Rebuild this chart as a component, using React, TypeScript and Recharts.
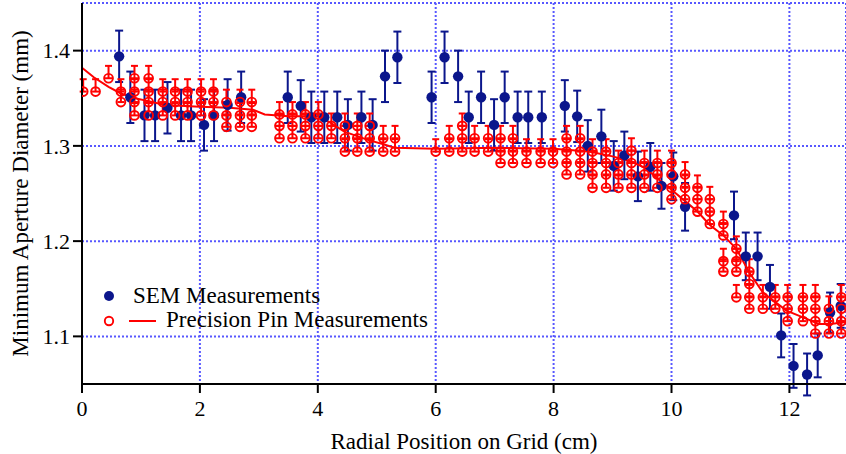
import React from 'react';
import { ComposedChart, Scatter, Line, XAxis, YAxis, CartesianGrid, ErrorBar, Legend, Label } from 'recharts';

const xTicks = [0, 2, 4, 6, 8, 10, 12];
const yTicks = [1.1, 1.2, 1.3, 1.4];

// SEM measurements (filled navy dots, symmetric error bars)
const semX = [0.63, 0.82, 1.06, 1.24, 1.45, 1.68, 1.85, 2.07, 2.24, 2.47, 2.70,
  3.49, 3.71, 3.89, 4.11, 4.33, 4.51, 4.74, 4.93, 5.14, 5.35,
  5.93, 6.15, 6.38, 6.56, 6.77, 6.99, 7.17, 7.39, 7.57, 7.80,
  8.19, 8.40, 8.58, 8.81, 9.02, 9.20, 9.43, 9.64, 9.83, 10.03, 10.23,
  11.06, 11.26, 11.46, 11.67, 11.86, 12.07, 12.30, 12.48, 12.69, 12.87];
const semY = [1.394, 1.351, 1.332, 1.332, 1.340, 1.332, 1.332, 1.322, 1.332, 1.343, 1.351,
  1.351, 1.342, 1.330, 1.330, 1.330, 1.322, 1.330, 1.322, 1.373, 1.393,
  1.351, 1.393, 1.373, 1.330, 1.351, 1.322, 1.351, 1.330, 1.330, 1.330,
  1.342, 1.331, 1.300, 1.310, 1.279, 1.290, 1.268, 1.278, 1.258, 1.268, 1.236,
  1.227, 1.184, 1.184, 1.152, 1.101, 1.069, 1.060, 1.080, 1.125, 1.132];
const semErr = [0.027, 0.027, 0.027, 0.027, 0.027, 0.027, 0.027, 0.027, 0.027, 0.027, 0.027,
  0.027, 0.027, 0.027, 0.027, 0.027, 0.027, 0.027, 0.027, 0.027, 0.027,
  0.027, 0.027, 0.027, 0.027, 0.027, 0.027, 0.027, 0.027, 0.027, 0.027,
  0.027, 0.027, 0.027, 0.028, 0.026, 0.025, 0.026, 0.025, 0.024, 0.025, 0.025,
  0.025, 0.025, 0.025, 0.023, 0.023, 0.023, 0.022, 0.023, 0.021, 0.023];

// Precision pin measurements: columns of open circles
const pinX = [0.02, 0.23, 0.45, 0.66, 0.89, 1.13, 1.37, 1.58, 1.79, 2.02, 2.23, 2.45, 2.68, 2.88,
  3.35, 3.57, 3.79, 4.01, 4.23, 4.46, 4.67, 4.88, 5.11, 5.31,
  6.0, 6.23, 6.45, 6.66, 6.89, 7.10, 7.31, 7.54, 7.78, 7.99, 8.22, 8.45, 8.66, 8.89,
  9.10, 9.32, 9.54, 9.76, 10.0, 10.23, 10.44, 10.65, 10.88, 11.10, 11.32,
  11.55, 11.76, 11.97, 12.23, 12.44, 12.67, 12.88];
const pinY = [
  [1.357], [1.357], [1.371], [1.357, 1.346],
  [1.371, 1.357, 1.346, 1.332], [1.371, 1.357, 1.346, 1.332],
  [1.357, 1.346, 1.332], [1.357, 1.346, 1.332], [1.357, 1.346, 1.332], [1.357, 1.346, 1.332], [1.357, 1.346, 1.332],
  [1.346, 1.332, 1.320], [1.346, 1.332, 1.320], [1.346, 1.332, 1.320],
  [1.333, 1.321, 1.308], [1.333, 1.321, 1.308], [1.333, 1.321, 1.308], [1.333, 1.321, 1.308],
  [1.321, 1.308], [1.321, 1.308, 1.294], [1.321, 1.308, 1.294], [1.321, 1.308, 1.294],
  [1.308, 1.294], [1.308, 1.294],
  [1.294], [1.308, 1.294], [1.321, 1.308, 1.294], [1.308, 1.294], [1.308, 1.294],
  [1.308, 1.294, 1.282], [1.308, 1.294, 1.282],
  [1.294, 1.282], [1.294, 1.282], [1.294, 1.282],
  [1.308, 1.294, 1.282, 1.270], [1.308, 1.294, 1.282, 1.270],
  [1.294, 1.282, 1.270, 1.256], [1.294, 1.282, 1.270, 1.256],
  [1.282, 1.270, 1.256], [1.295, 1.282, 1.270, 1.256], [1.282, 1.270, 1.256], [1.282, 1.270, 1.256],
  [1.282, 1.270, 1.256, 1.244], [1.270, 1.256, 1.244], [1.256, 1.244, 1.231], [1.244, 1.231, 1.218],
  [1.218, 1.206, 1.179, 1.168], [1.192, 1.179, 1.168, 1.141], [1.168, 1.155, 1.141, 1.129],
  [1.141, 1.129], [1.141, 1.129], [1.141, 1.129, 1.116], [1.141, 1.129, 1.116],
  [1.141, 1.129, 1.116, 1.103], [1.129, 1.116, 1.103], [1.141, 1.129, 1.116, 1.103],
];
const pinErrUp = 0.013;

// Precision pin trend line
const lineX = [0, 0.2, 0.45, 0.66, 0.9, 1.13, 1.4, 2.0, 2.5, 2.9, 3.1, 3.5, 4.0, 4.2, 4.45, 4.86, 5.1, 5.3,
  6.0, 7.0, 8.0, 8.6, 9.0, 9.3, 9.55, 9.8, 10.0, 10.23, 10.44, 10.65, 10.88, 11.1, 11.32, 11.55, 11.95,
  12.23, 12.5, 12.7, 12.96];
const lineY = [1.382, 1.372, 1.362, 1.355, 1.350, 1.347, 1.343, 1.341, 1.340, 1.338, 1.333, 1.331, 1.331,
  1.325, 1.315, 1.306, 1.302, 1.298, 1.297, 1.298, 1.297, 1.294, 1.289, 1.284, 1.277, 1.264, 1.254,
  1.242, 1.231, 1.217, 1.206, 1.192, 1.167, 1.146, 1.127, 1.120, 1.113, 1.113, 1.115];

const semData = semX.map((x, i) => ({ x, y: semY[i], err: semErr[i] }));
const pinData = pinX.flatMap((x, i) => pinY[i].map((y) => ({ x, y, eu: [0, pinErrUp] })));
const lineData = lineX.map((x, i) => ({ x, y: lineY[i] }));

const FONT = '"Liberation Serif", "Times New Roman", serif';
const SEM_COLOR = '#0b168c';
const PIN_COLOR = '#ff0000';
const GRID_COLOR = '#5858ff';

const SemDot = (props: any) => <circle cx={props.cx} cy={props.cy} r={5.2} fill={SEM_COLOR} />;
const PinDot = (props: any) => (
  <circle cx={props.cx} cy={props.cy} r={4.4} fill="none" stroke={PIN_COLOR} strokeWidth={1.9} />
);

const LegendContent = () => (
  <svg width={360} height={52} style={{ display: 'block', overflow: 'visible' }}>
    <circle cx={14} cy={13} r={5} fill={SEM_COLOR} />
    <text x={38} y={20} fontFamily={FONT} fontSize={23} fill="#000">SEM Measurements</text>
    <circle cx={14} cy={38} r={4.2} fill="none" stroke={PIN_COLOR} strokeWidth={1.9} />
    <line x1={34} x2={61} y1={38} y2={38} stroke={PIN_COLOR} strokeWidth={2} />
    <text x={71} y={44} fontFamily={FONT} fontSize={23} fill="#000">Precision Pin Measurements</text>
  </svg>
);

export default function App() {
  const tickStyle = { fill: '#000', fontSize: 22, fontFamily: FONT };
  return (
    <div style={{ position: 'absolute', left: 0, top: 0, background: '#fff' }}>
      <ComposedChart width={846} height={454} margin={{ top: 3, right: 0, bottom: 0, left: 0 }}>
        <CartesianGrid stroke={GRID_COLOR} strokeWidth={2} strokeDasharray="2 2" />
        <XAxis
          type="number"
          dataKey="x"
          domain={[0, 12.96]}
          allowDataOverflow
          ticks={xTicks}
          height={70}
          tick={tickStyle}
          tickSize={9}
          tickMargin={7}
          axisLine={{ stroke: '#000', strokeWidth: 2 }}
          tickLine={{ stroke: '#000', strokeWidth: 2 }}
        >
          <Label value="Radial Position on Grid (cm)" position="insideBottom" offset={5}
            style={{ fill: '#000', fontSize: 23, fontFamily: FONT }} />
        </XAxis>
        <XAxis
          xAxisId="top"
          orientation="top"
          type="number"
          domain={[0, 12.96]}
          allowDataOverflow
          height={0}
          tick={false}
          tickLine={false}
          axisLine={{ stroke: '#000', strokeWidth: 2 }}
        />
        <YAxis
          type="number"
          domain={[1.05, 1.45]}
          allowDataOverflow
          ticks={yTicks}
          width={82}
          tick={tickStyle}
          tickFormatter={(v: number) => v.toFixed(1)}
          tickSize={9}
          tickMargin={3}
          axisLine={{ stroke: '#000', strokeWidth: 2 }}
          tickLine={{ stroke: '#000', strokeWidth: 2 }}
        >
          <Label value="Minimum Aperture Diameter (mm)" angle={-90} position="insideLeft" offset={20}
            style={{ fill: '#000', fontSize: 23, fontFamily: FONT, textAnchor: 'middle' }} />
        </YAxis>
        <Scatter data={semData} dataKey="y" shape={SemDot} isAnimationActive={false}>
          <ErrorBar dataKey="err" direction="y" width={4} stroke={SEM_COLOR} strokeWidth={2} />
        </Scatter>
        <Scatter data={pinData} dataKey="y" shape={PinDot} isAnimationActive={false}>
          <ErrorBar dataKey="eu" direction="y" width={3.5} stroke={PIN_COLOR} strokeWidth={2} />
        </Scatter>
        <Line data={lineData} dataKey="y" type="linear" stroke={PIN_COLOR} strokeWidth={2}
          dot={false} activeDot={false} isAnimationActive={false} />
        <Legend layout="vertical" verticalAlign="middle" align="center" content={<LegendContent />}
          wrapperStyle={{ left: 95, top: 283, width: 360, height: 52 }} />
      </ComposedChart>
    </div>
  );
}
